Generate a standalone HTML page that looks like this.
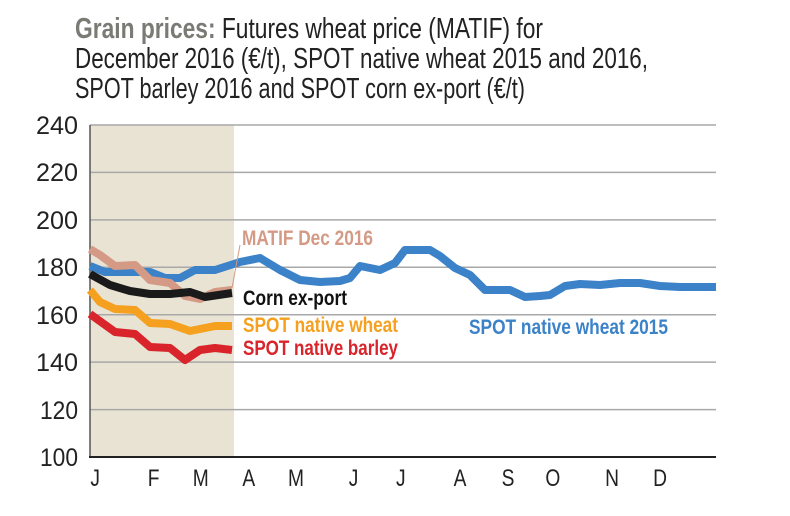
<!DOCTYPE html>
<html><head><meta charset="utf-8"><style>
html,body{margin:0;padding:0;background:#fff;}
svg{display:block;font-family:"Liberation Sans",sans-serif;}
</style></head><body>
<svg width="790" height="516" viewBox="0 0 790 516" xmlns="http://www.w3.org/2000/svg">
<rect width="790" height="516" fill="#fff"/>
<g font-size="29" fill="#222">
<text x="75" y="38" textLength="468" lengthAdjust="spacingAndGlyphs"><tspan fill="#7b7b75" font-weight="bold">Grain prices:</tspan> Futures wheat price (MATIF) for</text>
<text x="75" y="68" textLength="573" lengthAdjust="spacingAndGlyphs">December 2016 (€/t), SPOT native wheat 2015 and 2016,</text>
<text x="75" y="98" textLength="450" lengthAdjust="spacingAndGlyphs">SPOT barley 2016 and SPOT corn ex-port (€/t)</text>
</g>
<rect x="90" y="125" width="144" height="332" fill="#e8e3d3"/>
<g stroke="#a8a8a8" stroke-width="1.5">
<line x1="90" y1="125" x2="716" y2="125"/>
<line x1="90" y1="172.4" x2="716" y2="172.4"/>
<line x1="90" y1="219.9" x2="716" y2="219.9"/>
<line x1="90" y1="267.3" x2="716" y2="267.3"/>
<line x1="90" y1="314.7" x2="716" y2="314.7"/>
<line x1="90" y1="362.1" x2="716" y2="362.1"/>
<line x1="90" y1="409.6" x2="716" y2="409.6"/>
</g>
<line x1="90" y1="125" x2="90" y2="457" stroke="#555" stroke-width="1.5"/>
<line x1="89" y1="457" x2="716" y2="457" stroke="#222" stroke-width="2"/>
<g font-size="25" fill="#222" text-anchor="end">
<text x="78" y="134" textLength="42" lengthAdjust="spacingAndGlyphs">240</text><text x="78" y="181" textLength="42" lengthAdjust="spacingAndGlyphs">220</text><text x="78" y="229" textLength="42" lengthAdjust="spacingAndGlyphs">200</text>
<text x="78" y="276" textLength="42" lengthAdjust="spacingAndGlyphs">180</text><text x="78" y="324" textLength="42" lengthAdjust="spacingAndGlyphs">160</text><text x="78" y="371" textLength="42" lengthAdjust="spacingAndGlyphs">140</text>
<text x="78" y="419" textLength="38" lengthAdjust="spacingAndGlyphs">120</text><text x="78" y="466" textLength="38" lengthAdjust="spacingAndGlyphs">100</text>
</g>
<g font-size="24" fill="#222" text-anchor="middle" transform="scale(0.8,1)">
<text x="119" y="486">J</text><text x="192" y="486">F</text><text x="251" y="486">M</text>
<text x="311" y="486">A</text><text x="370" y="486">M</text><text x="442" y="486">J</text>
<text x="501" y="486">J</text><text x="575" y="486">A</text><text x="635" y="486">S</text>
<text x="691" y="486">O</text><text x="765" y="486">N</text><text x="825" y="486">D</text>
</g>
<g fill="none" stroke-width="8" stroke-linejoin="round">
<polyline stroke="#3c82c8" points="90,266 105,272 130,272 150,272 165,278 180,278 195,270 215,270 240,262 260,258 280,270 300,280 320,282 340,281 350,278 360,266 380,270 395,263 405,250 430,250 440,256 455,268 470,275 485,290 510,290 525,297 540,296 550,295 565,286 580,284 600,285 620,283 640,283 660,286 680,287 716,287"/>
<polyline stroke="#d49a85" points="90,249 100,255 115,266 135,265 150,280 170,283 185,296 200,299 215,292 232,290"/>
<polyline stroke="#1a1a1a" points="90,274 110,285 130,291 150,294 170,294 190,292 205,297 232,293"/>
<polyline stroke="#f5a01e" points="90,290 100,302 115,309 135,310 150,323 170,324 190,331 215,326 232,326"/>
<polyline stroke="#d8242a" points="90,314 115,332 135,334 150,347 170,348 185,360 200,350 215,348 232,350"/>
</g>
<line x1="232" y1="288" x2="240" y2="245" stroke="#d49a85" stroke-width="1"/>
<g font-size="21" font-weight="bold">
<text x="242" y="245" fill="#d49a85" textLength="131" lengthAdjust="spacingAndGlyphs">MATIF Dec 2016</text>
<text x="243" y="305" fill="#111" textLength="104" lengthAdjust="spacingAndGlyphs">Corn ex-port</text>
<text x="243" y="332" fill="#f5a01e" textLength="155" lengthAdjust="spacingAndGlyphs">SPOT native wheat</text>
<text x="243" y="355" fill="#d8242a" textLength="155" lengthAdjust="spacingAndGlyphs">SPOT native barley</text>
<text x="469" y="334" fill="#3c82c8" textLength="199" lengthAdjust="spacingAndGlyphs">SPOT native wheat 2015</text>
</g>
</svg>
</body></html>
